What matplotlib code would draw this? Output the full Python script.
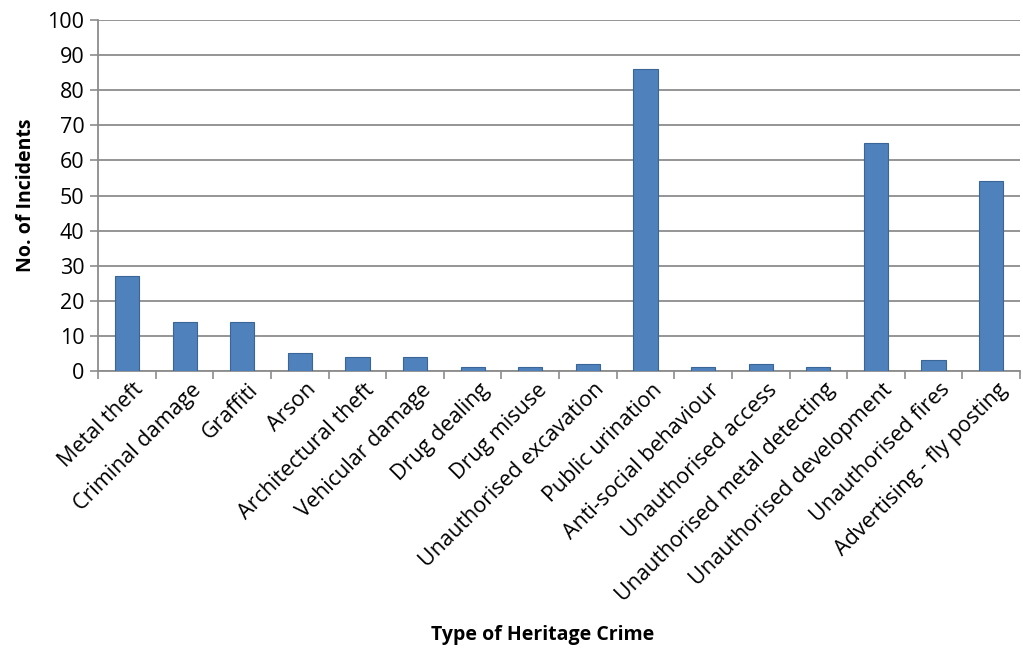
import numpy as np
import matplotlib.pyplot as plt

plt.rcParams['font.family'] = ['Open Sans', 'DejaVu Sans']

# data
crimes = [
    "Metal theft", "Criminal damage", "Graffiti", "Arson",
    "Architectural theft", "Vehicular damage", "Drug dealing", "Drug misuse",
    "Unauthorised excavation", "Public urination", "Anti-social behaviour",
    "Unauthorised access", "Unauthorised metal detecting",
    "Unauthorised development", "Unauthorised fires", "Advertising - fly posting",
]
incidents = [27, 14, 14, 5, 4, 4, 1, 1, 2, 86, 1, 2, 1, 65, 3, 54]

fig = plt.figure(figsize=(10.23, 6.48), dpi=100)
ax = fig.add_axes([0.096, 0.4275, 0.901, 0.5415])

x = np.arange(len(crimes))
ax.bar(x, incidents, width=0.42, color="#4F81BD", edgecolor="#3A6597",
       linewidth=0.8, zorder=3)

ax.set_xlim(-0.5, len(crimes) - 0.5)
ax.set_ylim(0, 100)
ax.set_yticks(np.arange(0, 101, 10))
ax.yaxis.grid(True, color="#8C8C8C", linewidth=1.3, zorder=0)

# category boundary ticks
ax.set_xticks(np.arange(-0.5, len(crimes) + 0.5, 1), minor=False)
ax.set_xticklabels([])
ax.set_xticks(x + 0.1, minor=True)
ax.set_xticklabels(crimes, minor=True, rotation=45, ha="right",
                   rotation_mode="anchor", fontsize=15.5)
ax.tick_params(axis="x", which="minor", length=0, pad=6)
ax.tick_params(axis="x", which="major", length=6, width=1.2,
               color="#8C8C8C", direction="out")
ax.tick_params(axis="y", length=6, width=1.2, color="#8C8C8C",
               labelsize=15.5, pad=4)

for s in ["top", "right"]:
    ax.spines[s].set_visible(False)
for s in ["left", "bottom"]:
    ax.spines[s].set_color("#8C8C8C")
    ax.spines[s].set_linewidth(1.3)

ax.set_ylabel("No. of Incidents", fontsize=14, fontweight="bold", labelpad=8)
fig.text(0.53, 0.012, "Type of Heritage Crime", fontsize=14,
         fontweight="bold", ha="center")

fig.savefig("out.png", dpi=100)
